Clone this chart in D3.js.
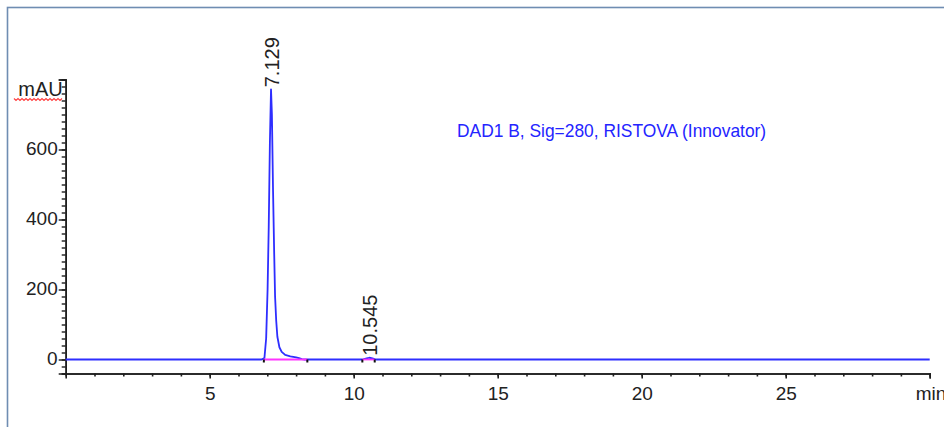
<!DOCTYPE html>
<html>
<head>
<meta charset="utf-8">
<script src="https://cdn.jsdelivr.net/npm/d3@7"></script>
<style>
  html, body { margin: 0; padding: 0; background: #fff; }
  svg { display: block; }
  text { font-family: "Liberation Sans", Arial, sans-serif; }
</style>
</head>
<body>
<svg id="chart" width="944" height="427"></svg>
<script>
// Chromatogram trace: retention time (min) and detector signal (mAU)
const traceTime = [0, 6.80, 6.90, 6.96, 7.01, 7.05, 7.09, 7.129, 7.16, 7.20, 7.24, 7.27, 7.31, 7.35, 7.42, 7.50, 7.62, 7.80, 8.00, 8.10, 8.20, 8.30,
                   10.30, 10.45, 10.545, 10.65, 10.78, 30];
const traceSignal = [0, 0, 4, 60, 200, 380, 620, 772, 700, 480, 300, 180, 110, 65, 35, 22, 13, 9, 6, 4, 1, 0,
                     0, 3, 5, 3, 0, 0];

// Integrated peaks: apex time, label, integration start / end (min)
const peakTimes = [7.129, 10.545];
const peakLabels = ["7.129", "10.545"];
const peakStart = [6.88, 10.30];
const peakEnd = [8.39, 10.73];

// Axis ticks
const xMajorTicks = [5, 10, 15, 20, 25, 30];
const xTickLabels = ["5", "10", "15", "20", "25", ""];
const yMajorTicks = [0, 200, 400, 600, 800];
const yTickLabels = ["0", "200", "400", "600", ""];

const signalName = "DAD1 B, Sig=280, RISTOVA (Innovator)";

const svg = d3.select("#chart");

// outer panel frame
svg.append("rect")
  .attr("x", 7.5).attr("y", 7.5)
  .attr("width", 1000).attr("height", 1000)
  .attr("fill", "#fff")
  .attr("stroke", "#6f8db2")
  .attr("stroke-width", 1.6);

const x = d3.scaleLinear().domain([0, 30]).range([65.7, 929.7]);
const y = d3.scaleLinear().domain([-40, 800]).range([373.5, 79.5]);

const axisColor = "#1e1e1e";

// x axis: minor ticks every minute, major every 5
const xAxisMinor = d3.axisBottom(x).tickValues(d3.range(1, 30)).tickSize(3).tickFormat("");
const xAxisMajor = d3.axisBottom(x).tickValues(xMajorTicks).tickSize(5)
  .tickFormat((d, i) => xTickLabels[i]).tickPadding(8);

const gx = svg.append("g").attr("transform", `translate(0,${y(-40)})`);
gx.append("g").call(xAxisMinor);
gx.append("g").call(xAxisMajor);
gx.selectAll(".domain").attr("stroke", axisColor).attr("stroke-width", 1.6);
gx.selectAll(".tick line").attr("stroke", axisColor).attr("stroke-width", 1.6);
gx.selectAll(".tick text")
  .attr("fill", "#222")
  .style("font-size", "19px")
  .style("font-family", "'Liberation Sans', Arial, sans-serif");

// y axis: minor ticks every 20 mAU, major every 200
const yAxisMinor = d3.axisLeft(y).tickValues(d3.range(-40, 801, 20)).tickSize(4).tickFormat("");
const yAxisMajor = d3.axisLeft(y).tickValues(yMajorTicks).tickSize(7)
  .tickFormat((d, i) => yTickLabels[i]).tickPadding(1);

const gy = svg.append("g").attr("transform", `translate(${x(0)},0)`);
gy.append("g").call(yAxisMinor);
gy.append("g").call(yAxisMajor);
gy.selectAll(".domain").attr("stroke", axisColor).attr("stroke-width", 1.6);
gy.selectAll(".tick line").attr("stroke", axisColor).attr("stroke-width", 1.4);
gy.selectAll(".tick text")
  .attr("fill", "#222")
  .attr("dy", "0.28em")
  .style("font-size", "19px")
  .style("font-family", "'Liberation Sans', Arial, sans-serif");

// axis titles
svg.append("text")
  .attr("x", x(0) - 3).attr("y", 96)
  .attr("text-anchor", "end")
  .attr("fill", "#222")
  .style("font-size", "20px")
  .text("mAU");

// spell-check squiggle under the unit
const squiggle = d3.path();
squiggle.moveTo(14, 98.5);
for (let i = 0, px = 14; px < 62; i++) {
  px += 2;
  squiggle.lineTo(px, i % 2 === 0 ? 100.5 : 98.5);
}
svg.append("path")
  .attr("d", squiggle.toString())
  .attr("fill", "none")
  .attr("stroke", "#ff4040")
  .attr("stroke-width", 1.2);

svg.append("text")
  .attr("x", x(30) - 14).attr("y", 400)
  .attr("fill", "#222")
  .style("font-size", "19px")
  .text("min");

// trace
const trace = traceTime.map((t, i) => [t, traceSignal[i]]);
svg.append("path")
  .datum(trace)
  .attr("d", d3.line().x(d => x(d[0])).y(d => y(d[1])))
  .attr("fill", "none")
  .attr("stroke", "#2e2eff")
  .attr("stroke-width", 1.8)
  .attr("stroke-linejoin", "round");

// integration baselines and peak start/end markers
peakTimes.forEach((rt, i) => {
  svg.append("line")
    .attr("x1", x(peakStart[i])).attr("x2", x(peakEnd[i]))
    .attr("y1", y(0)).attr("y2", y(0))
    .attr("stroke", "#ff33ff")
    .attr("stroke-width", 1.8);
  [peakStart[i], peakEnd[i]].forEach(t => {
    svg.append("rect")
      .attr("x", x(t) - 1).attr("y", y(0))
      .attr("width", 2).attr("height", 3)
      .attr("fill", "#111");
  });
});

// retention-time labels
peakTimes.forEach((rt, i) => {
  const apex = d3.max(trace.filter(d => Math.abs(d[0] - rt) < 0.3), d => d[1]);
  svg.append("text")
    .attr("transform", `translate(${x(rt) + 8},${y(apex) - 2}) rotate(-90)`)
    .attr("fill", "#222")
    .style("font-size", "20px")
    .text(peakLabels[i]);
});

// signal description
svg.append("text")
  .attr("transform", "translate(457,137) scale(1,1.1)")
  .attr("fill", "#2424ff")
  .style("font-size", "17.4px")
  .text(signalName);
</script>
</body>
</html>
